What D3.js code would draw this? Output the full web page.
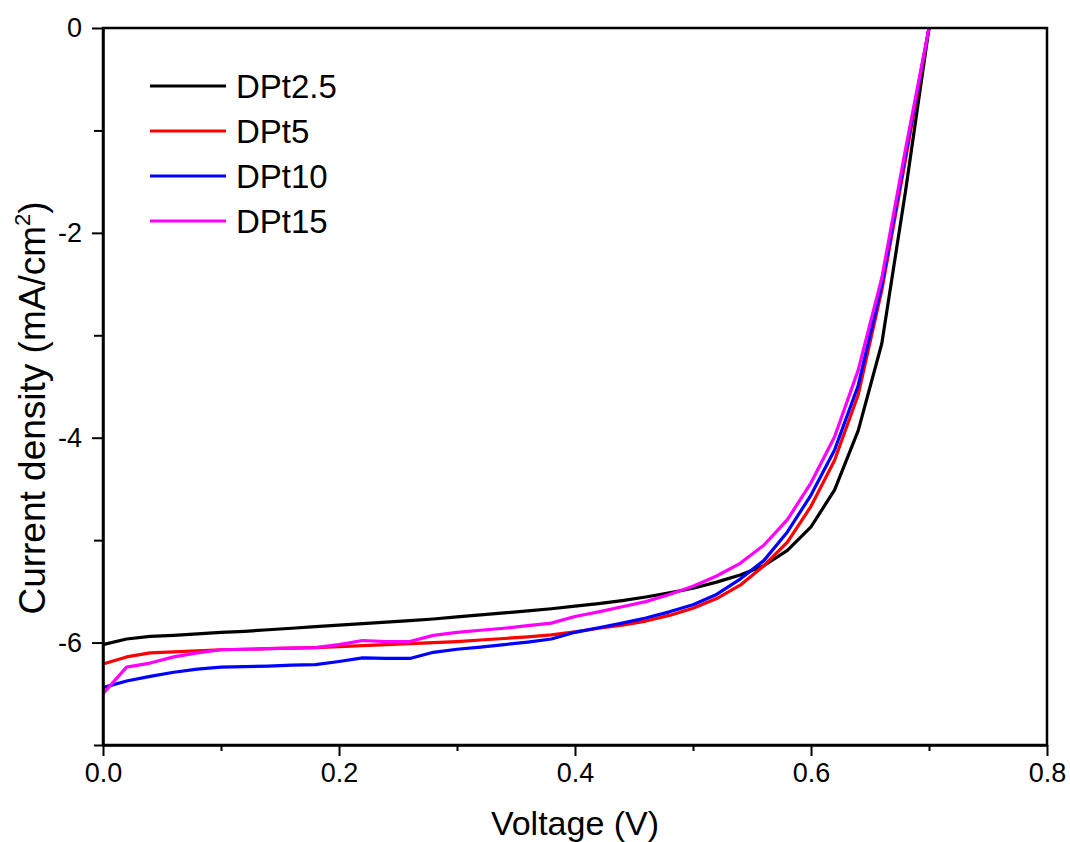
<!DOCTYPE html>
<html>
<head>
<meta charset="utf-8">
<script src="https://cdn.jsdelivr.net/npm/d3@7"></script>
<style>
  html, body { margin: 0; padding: 0; background: #fff; }
  svg { display: block; font-family: "Liberation Sans", Arial, sans-serif; }
</style>
</head>
<body>
<svg id="chart" width="1070" height="842"></svg>
<script>
// J–V curves of the four devices (voltage in V, current density in mA/cm²)
const voltage = [0.00, 0.02, 0.04, 0.06, 0.08, 0.10, 0.12, 0.14, 0.16, 0.18,
                 0.20, 0.22, 0.24, 0.26, 0.28, 0.30, 0.32, 0.34, 0.36, 0.38,
                 0.40, 0.42, 0.44, 0.46, 0.48, 0.50, 0.52, 0.54, 0.56, 0.58,
                 0.60, 0.62, 0.64, 0.66, 0.68, 0.70];

const seriesNames = ["DPt2.5", "DPt5", "DPt10", "DPt15"];
const seriesColors = ["#000000", "#ff0000", "#0000ff", "#ff00ff"];

const jDPt25 = [-6.02, -5.965, -5.94, -5.93, -5.915, -5.90, -5.89, -5.875, -5.86, -5.845,
                -5.83, -5.815, -5.80, -5.785, -5.77, -5.75, -5.73, -5.71, -5.69, -5.67,
                -5.645, -5.62, -5.59, -5.555, -5.515, -5.47, -5.41, -5.34, -5.25, -5.10,
                -4.87, -4.51, -3.93, -3.08, -1.60, 0.00];

const jDPt5 = [-6.21, -6.14, -6.10, -6.09, -6.08, -6.07, -6.065, -6.06, -6.055, -6.05,
               -6.04, -6.03, -6.02, -6.01, -6.00, -5.99, -5.975, -5.96, -5.945, -5.925,
               -5.895, -5.86, -5.83, -5.79, -5.735, -5.665, -5.57, -5.44, -5.25, -5.02,
               -4.67, -4.22, -3.58, -2.56, -1.29, 0.00];

const jDPt10 = [-6.44, -6.375, -6.33, -6.29, -6.26, -6.24, -6.235, -6.23, -6.22, -6.215,
                -6.185, -6.15, -6.155, -6.155, -6.095, -6.065, -6.045, -6.02, -5.995, -5.965,
                -5.90, -5.855, -5.81, -5.76, -5.70, -5.63, -5.53, -5.38, -5.20, -4.92,
                -4.56, -4.12, -3.49, -2.51, -1.24, 0.00];

const jDPt15 = [-6.50, -6.24, -6.20, -6.14, -6.10, -6.07, -6.065, -6.06, -6.055, -6.05,
                -6.02, -5.98, -5.99, -5.99, -5.93, -5.90, -5.88, -5.86, -5.835, -5.81,
                -5.745, -5.70, -5.65, -5.60, -5.53, -5.45, -5.35, -5.226, -5.05, -4.80,
                -4.44, -3.99, -3.34, -2.44, -1.19, 0.00];

const seriesValues = [jDPt25, jDPt5, jDPt10, jDPt15];

const xTicks = [0, 0.2, 0.4, 0.6, 0.8];
const xMinorTicks = [0.1, 0.3, 0.5, 0.7];
const yTicks = [0, -2, -4, -6];
const yMinorTicks = [-1, -3, -5, -7];

// Layout
const svg = d3.select("#chart");
const plot = { left: 103, right: 1047, top: 28, bottom: 745 };

const x = d3.scaleLinear().domain([0, 0.8]).range([plot.left, plot.right]);
const y = d3.scaleLinear().domain([-7, 0]).range([plot.bottom, plot.top]);

// Curves
const line = d3.line()
  .x(d => x(d[0]))
  .y(d => y(d[1]));

const curves = svg.append("g");
seriesValues.forEach((vals, i) => {
  curves.append("path")
    .datum(voltage.map((v, k) => [v, vals[k]]))
    .attr("d", line)
    .attr("fill", "none")
    .attr("stroke", seriesColors[i])
    .attr("stroke-width", 3.2)
    .attr("stroke-linejoin", "round");
});

// Frame
svg.append("rect")
  .attr("x", plot.left).attr("y", plot.top)
  .attr("width", plot.right - plot.left).attr("height", plot.bottom - plot.top)
  .attr("fill", "none").attr("stroke", "#000").attr("stroke-width", 2.5);

// X axis
const xAxis = svg.append("g").attr("transform", `translate(0,${plot.bottom})`)
  .call(d3.axisBottom(x).tickValues(xTicks).tickFormat(d => d.toFixed(1))
    .tickSize(11).tickSizeOuter(0).tickPadding(7));
xAxis.select(".domain").attr("stroke-width", 2.5);
xAxis.selectAll(".tick line").attr("stroke-width", 2);
xAxis.selectAll(".tick text").attr("font-size", 27).attr("fill", "#000")
  .attr("font-family", "'Liberation Sans', Arial, sans-serif");

const xMinor = svg.append("g").attr("transform", `translate(0,${plot.bottom})`)
  .call(d3.axisBottom(x).tickValues(xMinorTicks).tickFormat("").tickSize(6).tickSizeOuter(0));
xMinor.select(".domain").remove();
xMinor.selectAll(".tick line").attr("stroke-width", 2);

// Y axis (plain hyphen for negative labels)
const yAxis = svg.append("g").attr("transform", `translate(${plot.left},0)`)
  .call(d3.axisLeft(y).tickValues(yTicks).tickFormat(d => String(d))
    .tickSize(11).tickSizeOuter(0).tickPadding(10));
yAxis.select(".domain").attr("stroke-width", 2.5);
yAxis.selectAll(".tick line").attr("stroke-width", 2);
yAxis.selectAll(".tick text").attr("font-size", 27).attr("fill", "#000")
  .attr("font-family", "'Liberation Sans', Arial, sans-serif");

const yMinor = svg.append("g").attr("transform", `translate(${plot.left},0)`)
  .call(d3.axisLeft(y).tickValues(yMinorTicks).tickFormat("").tickSize(9).tickSizeOuter(0));
yMinor.select(".domain").remove();
yMinor.selectAll(".tick line").attr("stroke-width", 2);

// Axis titles
svg.append("text")
  .attr("x", (plot.left + plot.right) / 2).attr("y", 835)
  .attr("text-anchor", "middle").attr("font-size", 34)
  .text("Voltage (V)");

const yTitle = svg.append("text")
  .attr("transform", "translate(45,408) rotate(-90)")
  .attr("text-anchor", "middle").attr("font-size", 37);
yTitle.append("tspan").text("Current density (mA/cm");
yTitle.append("tspan").attr("font-size", 22).attr("dy", -15).text("2");
yTitle.append("tspan").attr("dy", 15).text(")");

// Legend
const legend = svg.append("g");
seriesNames.forEach((name, i) => {
  const ly = 86 + i * 45;
  legend.append("line")
    .attr("x1", 150).attr("x2", 226).attr("y1", ly).attr("y2", ly)
    .attr("stroke", seriesColors[i]).attr("stroke-width", 3.2);
  legend.append("text")
    .attr("x", 236).attr("y", ly + 12)
    .attr("font-size", 33).text(name);
});
</script>
</body>
</html>
